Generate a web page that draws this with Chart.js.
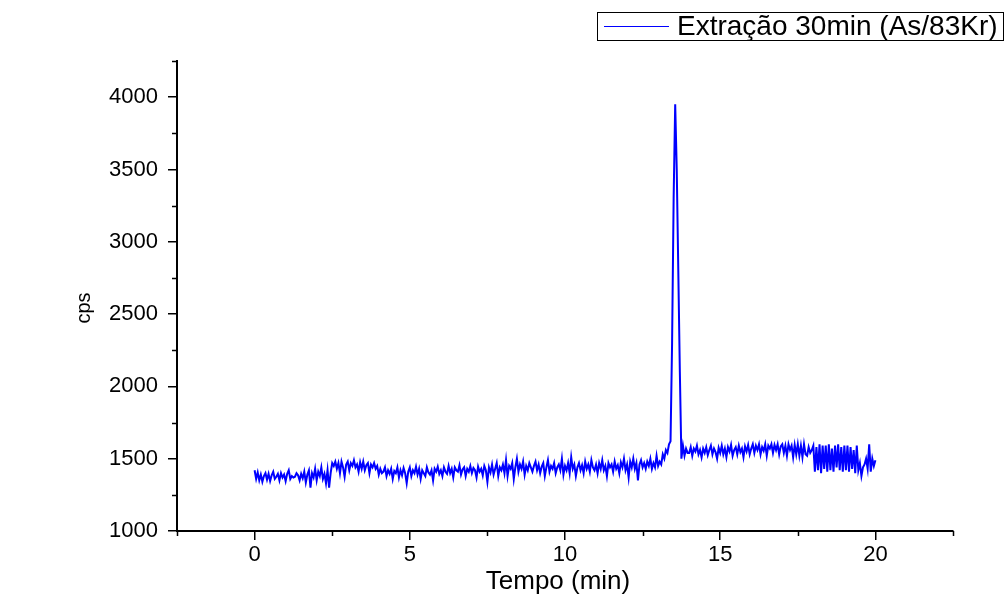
<!DOCTYPE html>
<html>
<head>
<meta charset="utf-8">
<title>Extração 30min (As/83Kr)</title>
<script src="https://cdn.jsdelivr.net/npm/chart.js@4"></script>
<style>
  html,body{margin:0;padding:0;background:#fff}
  #wrap{position:relative;width:1008px;height:596px}
</style>
</head>
<body>
<div id="wrap"><canvas id="chart" width="1008" height="596"></canvas></div>
<script>
/* ── Data (one sample every 0.05 min) ── */
const seriesLabel='Extração 30min (As/83Kr)';
const xTitle='Tempo (min)';
const yTitle='cps';
const sampleStart=0;
const sampleStep=0.05;
const cpsValues=[
  // 0–1 min
  1420,1360,1405,1350,1390,1340,1380,1400,1355,1395,1345,1385,1410,1360,1375,1395,1350,1400,1370,1390,
  // 1–2
  1345,1395,1420,1360,1380,1370,1375,1400,1385,1350,1395,1365,1410,1335,1390,1420,1300,1400,1370,1430,
  // 2–3
  1350,1410,1380,1440,1360,1395,1330,1420,1300,1400,1470,1450,1480,1430,1470,1400,1480,1440,1375,1460,
  // 3–4
  1480,1420,1470,1450,1490,1440,1460,1410,1475,1430,1480,1420,1455,1470,1400,1460,1440,1470,1430,1450,
  // 4–5
  1390,1430,1400,1410,1440,1380,1420,1395,1430,1360,1415,1400,1440,1370,1420,1385,1435,1400,1330,1410,
  // 5–6
  1440,1380,1420,1400,1445,1390,1430,1360,1420,1400,1380,1440,1405,1390,1420,1350,1430,1410,1445,1395,
  // 6–7
  1420,1380,1440,1410,1395,1450,1400,1430,1370,1440,1420,1410,1455,1390,1425,1440,1380,1430,1410,1450,
  // 7–8
  1400,1435,1420,1370,1445,1410,1430,1385,1450,1420,1340,1440,1405,1460,1390,1430,1470,1380,1440,1420,
  // 8–9
  1460,1400,1490,1380,1450,1430,1470,1360,1440,1500,1410,1460,1430,1480,1390,1450,1420,1470,1440,1410,
  // 9–10
  1450,1480,1420,1460,1400,1445,1470,1380,1440,1490,1410,1450,1430,1470,1400,1440,1460,1420,1500,1390,
  // 10–11
  1450,1420,1470,1400,1510,1430,1460,1380,1440,1470,1420,1455,1400,1480,1430,1460,1410,1490,1440,1420,
  // 11–12
  1460,1400,1470,1430,1490,1420,1450,1380,1470,1440,1460,1410,1480,1430,1455,1400,1475,1440,1500,1420,
  // 12–13
  1460,1370,1480,1440,1500,1430,1470,1350,1460,1490,1440,1470,1430,1480,1450,1500,1430,1470,1440,1520,
  // 13–14 (peak)
  1450,1480,1460,1530,1500,1560,1540,1600,1620,2300,3300,3950,3500,2800,2100,1500,1590,1520,1570,1540,
  // 14–15
  1540,1580,1520,1570,1550,1590,1530,1560,1510,1570,1540,1580,1525,1560,1590,1530,1570,1545,1500,1575,
  // 15–16
  1540,1590,1530,1570,1510,1580,1550,1595,1520,1560,1580,1530,1590,1545,1570,1510,1585,1550,1595,1530,
  // 16–17
  1570,1600,1540,1590,1560,1600,1530,1580,1555,1600,1520,1590,1570,1600,1540,1595,1560,1600,1530,1585,
  // 17–18
  1600,1540,1590,1520,1600,1560,1590,1510,1595,1530,1600,1520,1590,1510,1600,1530,1520,1580,1540,1560,
  // 18–19
  1590,1410,1580,1420,1600,1400,1590,1430,1590,1410,1600,1420,1570,1410,1590,1440,1600,1420,1580,1410,
  // 19–20
  1590,1420,1590,1410,1580,1430,1560,1400,1590,1420,1470,1380,1440,1460,1500,1430,1600,1410,1500,1450,
  1490
];

/* ── Axes ── */
const xMin=-2.5, xMax=22.5;
const yMin=1000, yMax=4250;
const xMajorTicks=[0,5,10,15,20];
const xMinorTicks=[-2.5,2.5,7.5,12.5,17.5,22.5];
const yMajorTicks=[1000,1500,2000,2500,3000,3500,4000];
const yMinorTicks=[1250,1750,2250,2750,3250,3750,4250];

const FONT='"Liberation Sans", Arial, sans-serif';
const lineBlue='#0000ff';

const points=cpsValues.map((v,i)=>({x:+(sampleStart+i*sampleStep).toFixed(2),y:v}));

/* minor ticks, axis titles and the boxed legend */
const decorations={
  id:'decorations',
  afterDraw(chart){
    const {ctx,chartArea:a,scales:{x,y}}=chart;
    ctx.save();
    ctx.strokeStyle='#000';
    ctx.lineWidth=1.5;
    ctx.beginPath();
    xMinorTicks.forEach(v=>{
      const px=Math.round(x.getPixelForValue(v))+0.5;
      ctx.moveTo(px,a.bottom);ctx.lineTo(px,a.bottom+5);
    });
    yMinorTicks.forEach(v=>{
      const py=Math.round(y.getPixelForValue(v))+0.5;
      ctx.moveTo(a.left-5,py);ctx.lineTo(a.left,py);
    });
    ctx.stroke();

    ctx.fillStyle='#000';
    ctx.textAlign='center';
    ctx.textBaseline='middle';
    ctx.font='26px '+FONT;
    ctx.fillText(xTitle,558,582);
    ctx.save();
    ctx.translate(84,308);
    ctx.rotate(-Math.PI/2);
    ctx.font='20px '+FONT;
    ctx.fillText(yTitle,0,0);
    ctx.restore();

    /* legend */
    ctx.lineWidth=1;
    ctx.strokeStyle='#000';
    ctx.strokeRect(597.5,12.5,406,28);
    ctx.strokeStyle=lineBlue;
    ctx.lineWidth=1.2;
    ctx.beginPath();
    ctx.moveTo(604,26.5);ctx.lineTo(669,26.5);
    ctx.stroke();
    ctx.textAlign='left';
    ctx.font='28px '+FONT;
    ctx.fillStyle='#000';
    ctx.fillText(seriesLabel,677,27);
    ctx.restore();
  }
};

new Chart(document.getElementById('chart'),{
  type:'line',
  data:{
    datasets:[{
      label:seriesLabel,
      data:points,
      borderColor:lineBlue,
      borderWidth:2,
      pointRadius:0,
      tension:0
    }]
  },
  options:{
    responsive:false,
    animation:false,
    layout:{padding:{left:0,top:61,right:55,bottom:0}},
    plugins:{legend:{display:false},tooltip:{enabled:false}},
    scales:{
      x:{
        type:'linear',
        min:xMin,max:xMax,
        afterBuildTicks:s=>{s.ticks=xMajorTicks.map(v=>({value:v}));},
        afterFit:s=>{s.height=65;},
        grid:{display:true,drawOnChartArea:false,tickLength:9,color:'#000',lineWidth:1.5},
        border:{display:true,color:'#000',width:2},
        ticks:{color:'#000',padding:2,font:{family:FONT,size:22},maxRotation:0,callback:v=>String(v)}
      },
      y:{
        type:'linear',
        min:yMin,max:yMax,
        afterBuildTicks:s=>{s.ticks=yMajorTicks.map(v=>({value:v}));},
        afterFit:s=>{s.width=177;},
        grid:{display:true,drawOnChartArea:false,tickLength:9,color:'#000',lineWidth:1.5},
        border:{display:true,color:'#000',width:2},
        ticks:{color:'#000',padding:10,font:{family:FONT,size:22},callback:v=>String(v)}
      }
    }
  },
  plugins:[decorations]
});
</script>
</body>
</html>
